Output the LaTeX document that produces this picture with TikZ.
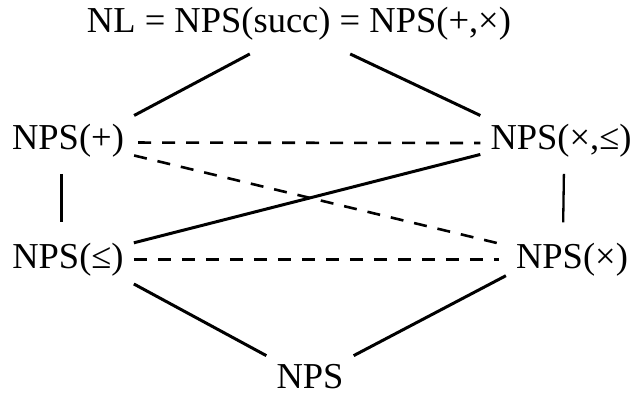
\documentclass[tikz,border=0pt]{standalone}
\usepackage{fontspec}
\setmainfont{Liberation Serif}
\usepackage{tikz}

\begin{document}
\begin{tikzpicture}[x=1pt,y=-1pt,
  lbl/.style={anchor=base,inner xsep=10pt,inner ysep=8pt,font=\fontsize{36.5}{40}\selectfont},
  link/.style={line width=3pt},
  dlink/.style={line width=2.6pt,dash pattern=on 13pt off 11pt},
  vlink/.style={line width=2.3pt,shorten <=9pt,shorten >=12pt}]
\useasboundingbox (0,0) rectangle (636,399);
\node[lbl,inner ysep=14pt] (top) at (299,32) {NL = NPS(succ) = NPS(+,×)};
\node[lbl] (plus) at (68,149) {NPS(+)};
\node[lbl] (timesle) at (561,149) {NPS(×,≤)};
\node[lbl] (le) at (68,268) {NPS(≤)};
\node[lbl] (times) at (572,268) {NPS(×)};
\node[lbl] (bot) at (310,388) {NPS};
\draw[link] (top.212) -- (plus.north east);
\draw[link] (top.-31) -- (timesle.north west);
\draw[vlink] (plus.-105) -- (le.105);
\draw[vlink] (timesle.-83) -- (times.110);
\draw[dlink,shorten <=4pt] (plus.-2) -- (timesle.182);
\draw[dlink,shorten >=8pt] (plus.-13) -- (times.168);
\draw[link] (le.14) -- (timesle.190);
\draw[dlink,shorten >=7pt] (le.east) -- (times.west);
\draw[link] (le.south east) -- (bot.north west);
\draw[link] (times.194) -- (bot.north east);
\end{tikzpicture}
\end{document}
